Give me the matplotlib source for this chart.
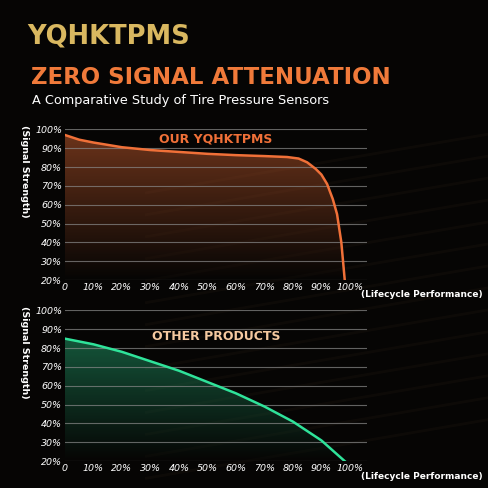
import matplotlib.pyplot as plt
import numpy as np
from matplotlib.colors import LinearSegmentedColormap

# lifecycle (%) and signal strength (%)
ours_x = [0, 5, 10, 20, 30, 40, 50, 60, 70, 78, 82, 85, 88, 90, 92, 94, 95.5, 97, 98.2]
ours_y = [97, 94.5, 93, 90.5, 89, 88, 87, 86.3, 85.8, 85.3, 84.5, 82.5, 79, 76, 71, 63, 55, 40, 20]
other_x = [0, 10, 20, 30, 40, 50, 60, 70, 80, 90, 98.2]
other_y = [85, 82, 78, 73, 68, 62, 56, 49, 41, 31, 20]
y_ticks = [20, 30, 40, 50, 60, 70, 80, 90, 100]
x_ticks = [0, 10, 20, 30, 40, 50, 60, 70, 80, 90, 100]
x_labels = ["0"] + [f"{v}%" for v in x_ticks[1:]]

BG = "#060504"
fig = plt.figure(figsize=(4.88, 4.88), dpi=100, facecolor=BG)

# faint diagonal streaks in the background
bg = fig.add_axes([0, 0, 1, 1], zorder=-5)
bg.set_xlim(0, 1)
bg.set_ylim(0, 1)
bg.axis("off")
bg.set_facecolor(BG)
for i in range(14):
    y0 = 0.02 + i * 0.045
    bg.plot([0.3, 1.0], [y0, y0 + 0.12], color="#6b4a30", alpha=0.08, lw=2)

fig.text(0.055, 0.925, "YQHKTPMS", color="#d9b860", fontsize=18.5, weight="bold",
         family="DejaVu Sans", va="center")
fig.text(0.064, 0.842, "ZERO SIGNAL ATTENUATION", color="#f07a3a", fontsize=16.5,
         weight="bold", family="DejaVu Sans", va="center")
fig.text(0.066, 0.795, "A Comparative Study of Tire Pressure Sensors", color="white",
         fontsize=9.3, family="DejaVu Sans", va="center")


def panel(rect, xs, ys, color, title, title_color, title_y):
    ax = fig.add_axes(rect)
    ax.set_facecolor("none")
    ax.set_xlim(0, 106)
    ax.set_ylim(20, 100)
    # gradient fill under the curve
    cmap = LinearSegmentedColormap.from_list("g", [BG, color])
    grad = np.linspace(0, 1, 200).reshape(-1, 1)
    im = ax.imshow(grad, extent=[0, 106, 20, 100], origin="lower", aspect="auto",
                   cmap=cmap, alpha=0.45, zorder=1)
    poly = ax.fill_between(xs, ys, 20, color="none")
    im.set_clip_path(poly.get_paths()[0], transform=ax.transData)
    ax.plot(xs, ys, color=color, lw=1.8, zorder=3)
    for y in y_ticks:
        ax.axhline(y, color="#8a8a8a", lw=0.8, alpha=0.7, zorder=2)
    for s in ax.spines.values():
        s.set_visible(False)
    ax.set_yticks(y_ticks)
    ax.set_yticklabels([f"{v}%" for v in y_ticks], color="white", fontsize=6.8,
                       style="italic")
    ax.set_xticks(x_ticks)
    ax.set_xticklabels(x_labels, color="white", fontsize=6.8, style="italic")
    ax.tick_params(length=0, pad=2)
    ax.text(104, 14.5, "(Lifecycle Performance)", color="white", fontsize=6.5,
            weight="bold", ha="left", va="top", clip_on=False)
    ax.set_ylabel("(Signal Strength)", color="white", fontsize=6.8, weight="bold",
                  rotation=-90)
    ax.yaxis.set_label_coords(-0.15, 0.72)
    ax.text(53, title_y, title, color=title_color, fontsize=9, weight="bold",
            ha="center", va="center")
    return ax


panel([0.133, 0.426, 0.619, 0.309], ours_x, ours_y, "#f07038", "OUR YQHKTPMS",
      "#f07038", 95)
panel([0.133, 0.055, 0.619, 0.309], other_x, other_y, "#2fe39a", "OTHER PRODUCTS",
      "#f5c9a0", 86)

fig.savefig("out.png", dpi=100, facecolor=BG)
